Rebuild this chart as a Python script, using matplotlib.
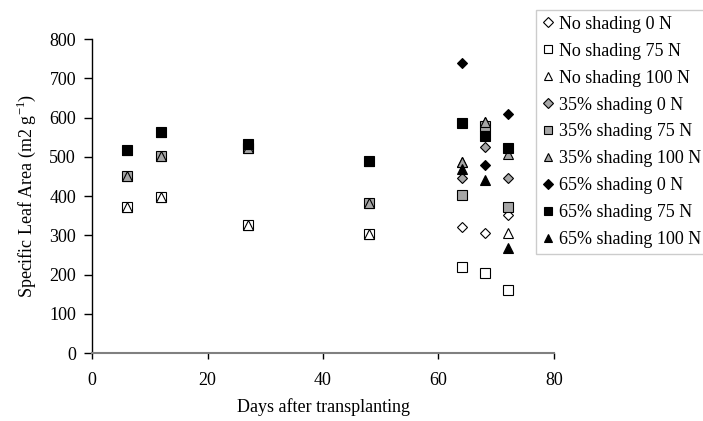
import matplotlib
matplotlib.use("Agg")
import matplotlib.pyplot as plt

plt.rcParams['font.family'] = ['Liberation Serif', 'DejaVu Serif']
plt.rcParams['mathtext.fontset'] = 'custom'
plt.rcParams['mathtext.rm'] = 'Liberation Serif'

days = [6, 12, 27, 48, 64, 68, 72]

labels = ["No shading 0 N", "No shading 75 N", "No shading 100 N",
          "35% shading 0 N", "35% shading 75 N", "35% shading 100 N",
          "65% shading 0 N", "65% shading 75 N", "65% shading 100 N"]

no_0 = [372, 398, 326, 303, 322, 306, 352]
no_75 = [372, 398, 326, 303, 219, 204, 160]
no_100 = [372, 398, 326, 303, 486, 588, 307]
s35_0 = [450, 502, 523, 383, 447, 526, 446]
s35_75 = [450, 502, 523, 383, 403, 578, 373]
s35_100 = [450, 502, 523, 383, 486, 588, 507]
s65_0 = [517, 563, 533, 490, 740, 478, 610]
s65_75 = [517, 563, 533, 490, 587, 552, 522]
s65_100 = [517, 563, 533, 490, 470, 442, 268]

series = [no_0, no_75, no_100, s35_0, s35_75, s35_100, s65_0, s65_75, s65_100]
markers = ['D', 's', '^'] * 3
sizes = {'D': 5.5, 's': 6.5, '^': 7}
fills = ['white'] * 3 + ['#a6a6a6'] * 3 + ['black'] * 3

fig = plt.figure(figsize=(7.03, 4.21), dpi=100)
ax = fig.add_axes([0.131, 0.1615, 0.657, 0.7455])

for vals, lab, m, fc in zip(series, labels, markers, fills):
    ax.plot(days, vals, linestyle='none', marker=m, markersize=sizes[m],
            markerfacecolor=fc, markeredgecolor='black', markeredgewidth=0.8,
            label=lab)

ax.set_xlim(0, 80)
ax.set_ylim(0, 800)
ax.set_xticks([0, 20, 40, 60, 80])
ax.set_yticks(range(0, 801, 100))
ax.spines['top'].set_visible(False)
ax.spines['right'].set_visible(False)
ax.spines['bottom'].set_color('#808080')
ax.spines['bottom'].set_linewidth(1.5)
ax.spines['left'].set_linewidth(1.0)
ax.tick_params(direction='out', labelsize=13, width=1)
ax.tick_params(axis='y', length=5.5, pad=6)
ax.tick_params(axis='x', length=4, color='black', pad=10)
ax.set_xlabel('Days after transplanting', fontsize=13, labelpad=6)
ax.set_ylabel(r'Specific Leaf Area (m2 g$^{\mathregular{-1}}$)', fontsize=13, labelpad=8)

leg = fig.legend(loc='upper left', bbox_to_anchor=(536 / 703, 1 - 10 / 421),
                 frameon=True, fancybox=False, fontsize=13, handlelength=0.7,
                 handletextpad=0.25, labelspacing=0.55, borderpad=0.32,
                 borderaxespad=0, markerscale=0.85)
leg.get_frame().set_edgecolor('#c0c0c0')
leg.get_frame().set_linewidth(1.0)

fig.savefig('out.png', dpi=100)
